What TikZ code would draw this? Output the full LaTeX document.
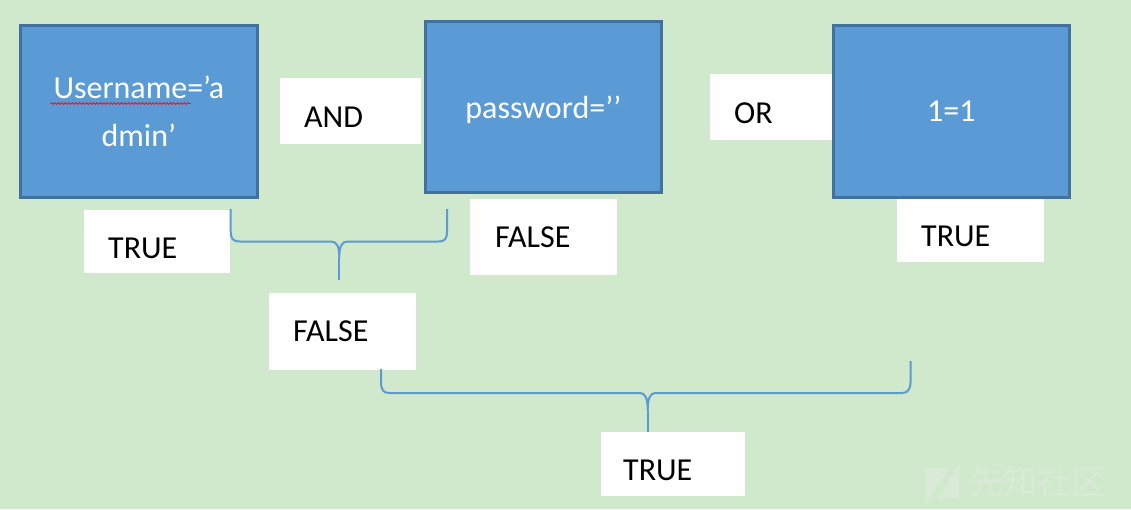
\documentclass[tikz,border=0pt]{standalone}
\usepackage{fontspec}
\setmainfont{Carlito}
\newfontfamily\cjk{Noto Sans CJK SC}
\usetikzlibrary{decorations.pathmorphing}
\definecolor{bg}{HTML}{D0E8CC}
\definecolor{bfill}{HTML}{5B9BD5}
\definecolor{bdraw}{HTML}{41719C}
\definecolor{brc}{HTML}{5B9BD5}
\definecolor{wm}{HTML}{D9EBD6}
\begin{document}
\begin{tikzpicture}[x=1pt,y=-1pt,
  bluebox/.style={draw=bdraw, fill=bfill, line width=3pt, inner sep=0pt, text=white,
    font=\fontsize{32}{48}\selectfont, align=center},
  wbox/.style={fill=white, draw=none, inner sep=0pt, anchor=north west},
  lbl/.style={inner sep=0pt, anchor=base west, font=\fontsize{32}{48}\selectfont, text=black},
  brace/.style={draw=brc, line width=2pt}]
\useasboundingbox (0,0) rectangle (1131,509);
\fill[bg] (0,0) rectangle (1131,509);

% white label boxes
\node[wbox, minimum width=141, minimum height=66] (andbox) at (280,78) {};
\node[wbox, minimum width=123, minimum height=66] (orbox) at (710,74) {};
\node[wbox, minimum width=146, minimum height=63] (t1box) at (84,210) {};
\node[wbox, minimum width=147, minimum height=76] (f1box) at (470,199) {};
\node[wbox, minimum width=147, minimum height=64] (t2box) at (897,198) {};
\node[wbox, minimum width=147, minimum height=77] (f2box) at (269,293) {};
\node[wbox, minimum width=144, minimum height=64] (t3box) at (601,432) {};

\node[lbl] (andtxt) at (304,127) {AND};
\node[lbl] (ortxt) at (734,123) {OR};
\node[lbl] (t1txt) at (108,258) {TRUE};
\node[lbl] (f1txt) at (495,247) {FALSE};
\node[lbl] (t2txt) at (921,246) {TRUE};
\node[lbl] (f2txt) at (293,341) {FALSE};
\node[lbl] (t3txt) at (623,480) {TRUE};

% blue boxes
\node[bluebox, minimum width=236.7, minimum height=171.7] (user) at (138.85,111.35)
  {Username=’a\\dmin’};
\node[bluebox, text depth=0pt, minimum width=235.7, minimum height=171] (pass) at (543.35,107)
  {password=’’};
\node[bluebox, minimum width=235.7, minimum height=171.7] (one) at (951.35,111.35)
  {1=1};

% spell-check squiggle
\draw[red, line width=0.7pt, decorate, decoration={snake, segment length=3.5pt, amplitude=0.9pt}]
  (50.5,103.5) -- (190.7,103.5);

% braces
\coordinate (b1l) at (230.7,209);
\coordinate (b1r) at (447,209);
\coordinate (b1t) at (339.3,280);
\draw[brace] (b1l) -- (230.7,231)
  .. controls (230.7,239) and (233,241.5) .. (240,241.5) -- (331,241.5)
  .. controls (336.5,241.5) and (339.3,246) .. (339.3,257)
  .. controls (339.3,246) and (342.1,241.5) .. (347.6,241.5) -- (438,241.5)
  .. controls (445,241.5) and (447,239) .. (447,231) -- (b1r);
\draw[brace] (339.3,257) -- (b1t);

\coordinate (b2l) at (381,369);
\coordinate (b2r) at (910.7,361);
\coordinate (b2t) at (647.7,432);
\draw[brace] (b2l) -- (381,383)
  .. controls (381.5,390.5) and (383.5,393) .. (390,393) -- (640,393)
  .. controls (645,393) and (647.7,398) .. (647.7,410)
  .. controls (647.7,398) and (650.4,393) .. (655.4,393) -- (902,393)
  .. controls (908.5,393) and (910.7,389) .. (910.7,378) -- (b2r);
\draw[brace] (647.7,410) -- (b2t);

% watermark
\fill[wm] (925,468.5) -- (948.5,468.5) -- (925,505) -- cycle;
\fill[wm] (959.3,462.7) -- (959.3,498.5) -- (938,498.5) -- cycle;
\node[inner sep=0pt, anchor=base west, text=wm, font=\cjk\fontsize{34}{34}\selectfont] (wmtxt) at (969,494.5) {先知社区};
\end{tikzpicture}
\end{document}
